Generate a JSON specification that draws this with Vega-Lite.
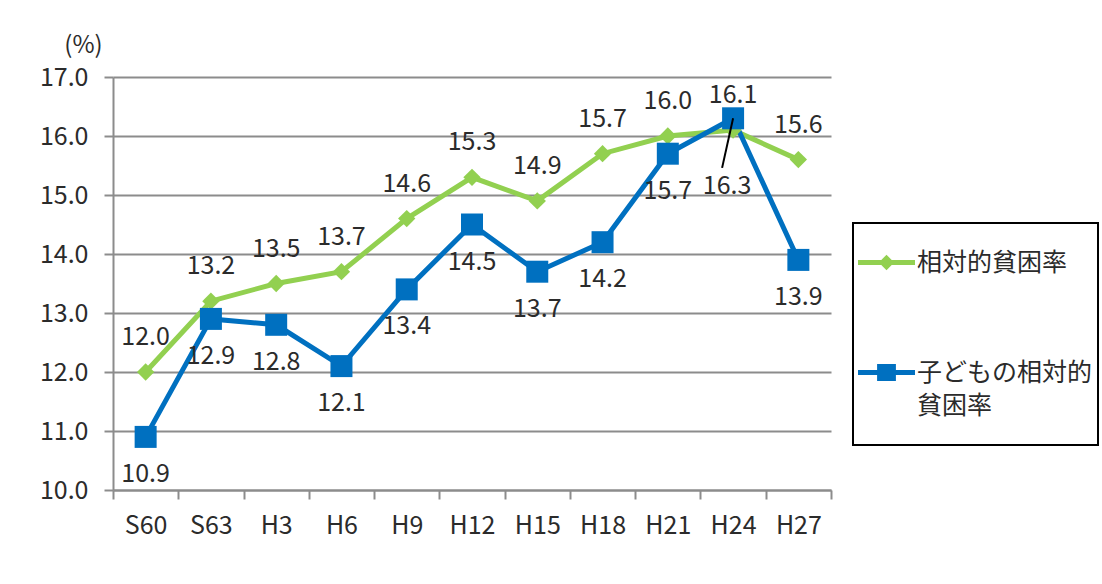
{
  "$schema": "https://vega.github.io/schema/vega-lite/v6.json",
  "width": 718,
  "height": 413,
  "autosize": {"type": "none"},
  "padding": {"left": 113, "top": 77, "right": 271, "bottom": 94},
  "background": "white",
  "config": {
    "view": {"stroke": null},
    "font": "Noto Sans CJK JP",
    "axis": {
      "labelFont": "Noto Sans CJK JP",
      "labelFontSize": 25,
      "labelColor": "#2b2b2b",
      "domainColor": "#8c8c8c",
      "domainWidth": 2,
      "tickColor": "#8c8c8c",
      "tickWidth": 2,
      "gridColor": "#8c8c8c",
      "gridWidth": 2
    }
  },
  "data": {
    "values": [
      {"year": "S60", "series": "相対的貧困率", "value": 12.0},
      {"year": "S63", "series": "相対的貧困率", "value": 13.2},
      {"year": "H3", "series": "相対的貧困率", "value": 13.5},
      {"year": "H6", "series": "相対的貧困率", "value": 13.7},
      {"year": "H9", "series": "相対的貧困率", "value": 14.6},
      {"year": "H12", "series": "相対的貧困率", "value": 15.3},
      {"year": "H15", "series": "相対的貧困率", "value": 14.9},
      {"year": "H18", "series": "相対的貧困率", "value": 15.7},
      {"year": "H21", "series": "相対的貧困率", "value": 16.0},
      {"year": "H24", "series": "相対的貧困率", "value": 16.1},
      {"year": "H27", "series": "相対的貧困率", "value": 15.6},
      {"year": "S60", "series": "子どもの相対的貧困率", "value": 10.9},
      {"year": "S63", "series": "子どもの相対的貧困率", "value": 12.9},
      {"year": "H3", "series": "子どもの相対的貧困率", "value": 12.8},
      {"year": "H6", "series": "子どもの相対的貧困率", "value": 12.1},
      {"year": "H9", "series": "子どもの相対的貧困率", "value": 13.4},
      {"year": "H12", "series": "子どもの相対的貧困率", "value": 14.5},
      {"year": "H15", "series": "子どもの相対的貧困率", "value": 13.7},
      {"year": "H18", "series": "子どもの相対的貧困率", "value": 14.2},
      {"year": "H21", "series": "子どもの相対的貧困率", "value": 15.7},
      {"year": "H24", "series": "子どもの相対的貧困率", "value": 16.3},
      {"year": "H27", "series": "子どもの相対的貧困率", "value": 13.9}
    ]
  },
  "encoding": {
    "x": {
      "field": "year",
      "type": "nominal",
      "sort": null,
      "scale": {"type": "band", "paddingInner": 0, "paddingOuter": 0},
      "axis": {
        "title": null,
        "labelAngle": 0,
        "tickBand": "extent",
        "tickSize": 9,
        "labelPadding": 14,
        "grid": false
      }
    },
    "y": {
      "field": "value",
      "type": "quantitative",
      "scale": {"domain": [10, 17], "nice": false, "zero": false},
      "axis": {
        "values": [10, 11, 12, 13, 14, 15, 16, 17],
        "format": ".1f",
        "tickSize": 9,
        "labelPadding": 16,
        "title": "(%)",
        "titleAngle": 0,
        "titleX": -30,
        "titleY": -32,
        "titleAlign": "center",
        "titleBaseline": "middle",
        "titleFont": "Noto Sans CJK JP",
        "titleFontSize": 24,
        "titleFontWeight": "normal",
        "titleColor": "#2b2b2b"
      }
    }
  },
  "layer": [
    {
      "mark": {"type": "line", "strokeWidth": 5},
      "encoding": {
        "color": {
          "field": "series",
          "type": "nominal",
          "scale": {"domain": ["相対的貧困率", "子どもの相対的貧困率"], "range": ["#92D050", "#0070C0"]},
          "legend": {
            "orient": "none",
            "legendX": 740,
            "legendY": 146,
            "title": " ",
            "titleFontSize": 1,
            "titlePadding": 5,
            "strokeColor": "black",
            "padding": 5,
            "rowPadding": 68,
            "labelFont": "Noto Sans CJK JP",
            "labelFontSize": 25,
            "labelColor": "#2b2b2b",
            "labelLimit": 400,
            "labelOffset": 2,
            "symbolSize": 3249,
            "labelExpr": "datum.label == '子どもの相対的貧困率' ? ['子どもの相対的', '貧困率'] : datum.label",
            "encode": {
              "legend": {"update": {"strokeWidth": {"value": 2}}},
              "labels": {"update": {"lineHeight": {"value": 33}}},
              "symbols": {
                "update": {
                  "shape": {"signal": "datum.value == '相対的貧困率' ? 'M-1,-0.09H1V0.09H-1ZM-0.27,0L0,-0.27L0.27,0L0,0.27Z' : 'M0,2.35M-1,-0.09H1V0.09H-1ZM-0.33,-0.3H0.33V0.3H-0.33Z'"},
                  "fill": {"signal": "datum.value == '相対的貧困率' ? '#92D050' : '#0070C0'"},
                  "strokeWidth": {"value": 0},
                  "fillOpacity": {"value": 1},
                  "opacity": {"value": 1},
                  "size": {"value": 3249}
                }
              }
            }
          }
        }
      }
    },
    {
      "transform": [{"filter": "datum.series == '相対的貧困率'"}],
      "mark": {"type": "point", "filled": true, "opacity": 1, "shape": "diamond", "size": 300, "color": "#92D050"}
    },
    {
      "transform": [{"filter": "datum.series == '子どもの相対的貧困率'"}],
      "mark": {"type": "point", "filled": true, "opacity": 1, "shape": "square", "size": 484, "color": "#0070C0"}
    },
    {
      "transform": [{"filter": "datum.series == '子どもの相対的貧困率' && datum.year == 'H24'"}],
      "mark": {"type": "rule", "color": "black", "strokeWidth": 2, "x2Offset": -11},
      "encoding": {
        "x2": {"datum": "H24"},
        "y2": {"datum": 15.46}
      }
    },
    {
      "transform": [{"filter": "datum.series == '相対的貧困率'"}],
      "mark": {"type": "text", "dy": -35, "fontSize": 25, "color": "#2b2b2b", "font": "Noto Sans CJK JP"},
      "encoding": {"text": {"field": "value", "type": "quantitative", "format": ".1f"}}
    },
    {
      "transform": [{"filter": "datum.series == '子どもの相対的貧困率' && datum.year != 'H24'"}],
      "mark": {"type": "text", "dy": 37, "fontSize": 25, "color": "#2b2b2b", "font": "Noto Sans CJK JP"},
      "encoding": {"text": {"field": "value", "type": "quantitative", "format": ".1f"}}
    },
    {
      "transform": [{"filter": "datum.series == '子どもの相対的貧困率' && datum.year == 'H24'"}],
      "mark": {"type": "text", "dy": 68, "dx": -6, "fontSize": 25, "color": "#2b2b2b", "font": "Noto Sans CJK JP"},
      "encoding": {"text": {"field": "value", "type": "quantitative", "format": ".1f"}}
    }
  ]
}
